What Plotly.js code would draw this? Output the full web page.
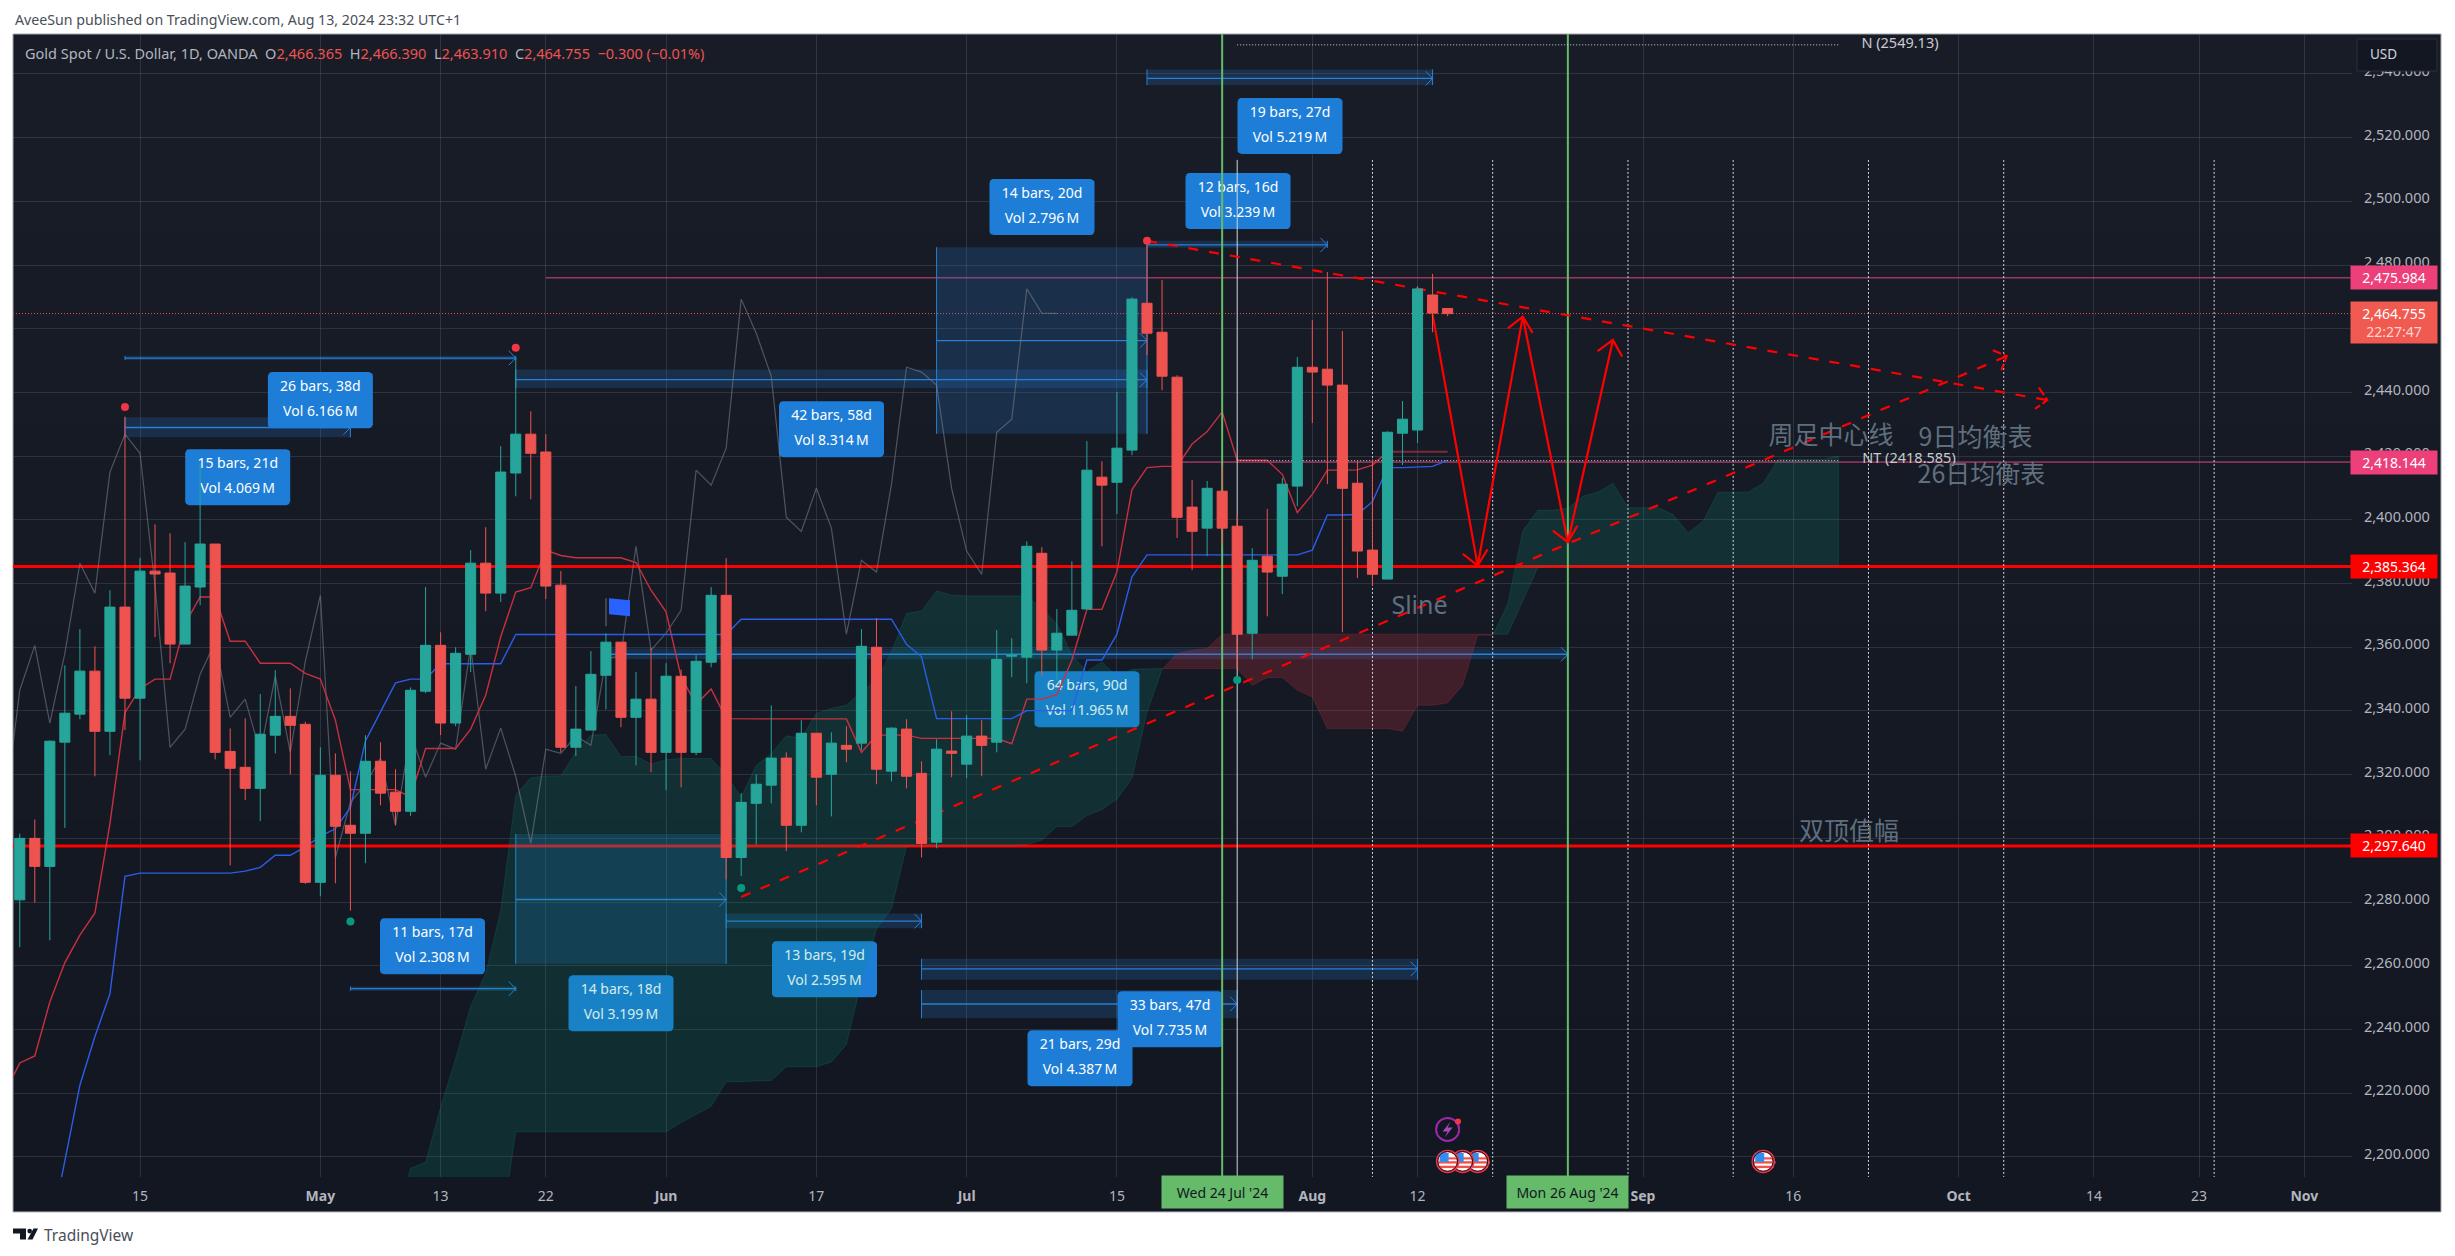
<!DOCTYPE html>
<html><head><meta charset="utf-8">
<script src="https://cdn.plot.ly/plotly-3.0.0.min.js"></script>
<style>html,body{margin:0;padding:0;background:#fff}#chart{width:2455px;height:1256px}</style>
</head><body><div id="chart"></div>
<script>
// ---------- DATA ----------
const barIndex=[-8,-7,-6,-5,-4,-3,-2,-1,0,1,2,3,4,5,6,7,8,9,10,11,12,13,14,15,16,17,18,19,20,21,22,23,24,25,26,27,28,29,30,31,32,33,34,35,36,37,38,39,40,41,42,43,44,45,46,47,48,49,50,51,52,53,54,55,56,57,58,59,60,61,62,63,64,65,66,67,68,69,70,71,72,73,74,75,76,77,78,79,80,81,82,83,84,85,86,87];
const openP=[2280.7,2300.0,2291.2,2330.2,2339.0,2352.5,2333.6,2372.6,2344.0,2383.9,2383.3,2361.0,2378.9,2392.4,2327.3,2322.3,2315.7,2332.4,2338.3,2335.8,2286.2,2319.8,2304.1,2301.6,2324.2,2314.5,2308.5,2346.2,2360.6,2336.2,2357.8,2386.4,2377.0,2414.7,2426.9,2421.3,2379.5,2328.6,2334.0,2351.2,2361.6,2338.0,2343.7,2327.0,2350.9,2327.0,2355.3,2376.3,2294.0,2311.0,2316.7,2325.2,2304.1,2333.0,2320.1,2329.2,2329.9,2360.0,2321.1,2334.3,2320.4,2298.8,2327.4,2323.3,2332.1,2330.2,2357.2,2356.9,2389.5,2359.1,2363.8,2372.0,2413.4,2411.8,2421.9,2468.0,2458.9,2444.8,2404.0,2397.4,2409.0,2398.0,2364.4,2388.6,2382.3,2410.6,2447.9,2447.3,2442.3,2411.5,2390.5,2381.4,2427.2,2428.2,2470.6,2466.365];
const highP=[2301.5,2305.9,2330.8,2354.3,2365.7,2360.3,2377.9,2432.4,2388.0,2398.6,2395.8,2393.0,2417.7,2392.4,2334.5,2337.7,2345.3,2352.8,2347.1,2336.6,2328.6,2326.7,2321.0,2332.4,2330.2,2321.7,2347.4,2378.9,2364.7,2360.0,2390.5,2397.7,2423.1,2451.0,2434.1,2426.9,2383.9,2347.8,2358.8,2364.4,2361.6,2352.2,2359.7,2355.0,2353.0,2357.5,2378.9,2388.0,2314.2,2320.1,2341.8,2327.0,2337.1,2333.0,2333.3,2335.2,2365.7,2369.1,2334.9,2337.4,2324.2,2331.1,2339.9,2338.7,2337.1,2365.4,2362.8,2393.3,2391.4,2372.0,2387.0,2424.7,2418.4,2440.1,2469.9,2486.3,2475.3,2445.4,2412.5,2412.2,2417.0,2401.5,2391.1,2403.4,2413.1,2451.1,2462.7,2477.8,2459.3,2418.4,2419.0,2427.8,2437.3,2473.4,2477.2,2466.39];
const lowP=[2265.8,2279.8,2268.0,2303.3,2337.4,2319.5,2326.1,2334.0,2324.5,2363.2,2355.0,2361.0,2373.2,2324.8,2291.5,2312.0,2305.4,2326.7,2320.1,2285.7,2281.8,2285.9,2277.3,2292.2,2310.4,2304.1,2307.0,2345.6,2332.4,2335.2,2352.2,2371.3,2374.2,2407.4,2406.5,2375.1,2327.0,2325.8,2334.0,2340.5,2334.9,2322.9,2320.8,2315.1,2316.0,2326.1,2353.7,2287.1,2288.1,2298.1,2311.0,2296.0,2301.9,2310.4,2306.9,2323.9,2327.7,2317.0,2317.9,2315.7,2294.0,2296.9,2319.2,2318.9,2319.5,2327.0,2350.6,2348.7,2351.2,2349.6,2363.8,2372.0,2391.7,2401.8,2420.3,2451.7,2440.7,2394.3,2384.2,2388.6,2392.0,2353.3,2356.2,2369.7,2376.7,2404.3,2430.4,2411.2,2364.7,2381.7,2379.2,2381.4,2417.2,2424.1,2458.9,2463.91];
const closeP=[2300.0,2291.2,2330.5,2339.3,2352.5,2333.6,2372.6,2344.0,2383.9,2383.0,2361.0,2379.2,2392.4,2327.0,2322.0,2315.7,2332.7,2338.3,2335.5,2286.2,2319.8,2303.8,2301.6,2324.2,2314.2,2308.5,2346.5,2360.6,2336.2,2358.1,2386.4,2377.0,2415.0,2426.9,2420.9,2379.2,2328.6,2334.3,2351.5,2361.6,2338.0,2343.7,2327.0,2350.9,2327.0,2355.6,2376.3,2294.0,2311.3,2317.0,2325.2,2304.1,2333.0,2319.2,2329.9,2328.0,2360.3,2321.7,2334.6,2319.5,2298.4,2328.0,2326.7,2332.1,2329.2,2356.2,2357.5,2391.7,2359.1,2364.4,2371.6,2415.6,2410.9,2422.5,2469.3,2458.6,2445.1,2400.8,2396.4,2409.9,2397.4,2364.1,2387.3,2383.6,2411.2,2447.9,2446.4,2442.3,2409.9,2390.2,2382.9,2427.5,2431.6,2472.5,2464.9,2464.755];

const conversionIndex=[-9,-8,-7,-6,-5,-4,-3,-2,-1,0,1,2,3,4,5,6,7,8,9,10,11,12,13,14,15,16,17,18,19,20,21,22,23,24,25,26,27,28,29,30,31,32,33,34,35,36,37,38,39,40,41,42,43,44,45,46,47,48,49,50,51,52,53,54,55,56,57,58,59,60,61,62,63,64,65,66,67,68,69,70,71,72,73,74,75,76,77,78,79,80,81,82,83];
const conversionLine=[2220,2229.5,2231.7,2248.6,2261,2269.6,2276.6,2304.6,2339.5,2347,2350,2350,2367.4,2375.8,2375.8,2361.9,2361.9,2355,2355,2355,2351.8,2350,2337.1,2315.3,2315.3,2315.3,2315.3,2313,2328.2,2328.2,2328.2,2334.3,2344.9,2363.3,2377.3,2378.7,2390.5,2388.8,2388.1,2388.1,2388.1,2388.1,2386.6,2377.9,2371.1,2350.7,2342.1,2346.9,2337.6,2337.5,2337.5,2337.5,2337.5,2337.5,2337.5,2337.5,2337.5,2327,2332.4,2332.4,2332.4,2331.4,2331.4,2331.4,2331.4,2331.4,2331.4,2329.7,2343.7,2343.7,2345.1,2355.9,2371.9,2371.9,2383.7,2409.5,2416.4,2416.8,2416.8,2423.8,2427.7,2433.9,2418.7,2418.7,2418.7,2414.3,2402.3,2408,2415.6,2415.6,2415.7,2417.2,2421.4];
const conversionTailIndex=[83,84,85,86,87];
const conversionTail=[2421.4,2421.4,2421.4,2421.4,2421.4];

const baseIndex=[-6,-5,-4,-3,-2,-1,0,1,2,3,4,5,6,7,8,9,10,11,12,13,14,15,16,17,18,19,20,21,22,23,24,25,26,27,28,29,30,31,32,33,34,35,36,37,38,39,40,41,42,43,44,45,46,47,48,49,50,51,52,53,54,55,56,57,58,59,60,61,62,63,64,65,66,67,68,69,70,71,72,73,74,75,76,77,78,79,80,81,82,83,84,85,86,87];
const baseLine=[2175,2199,2222.5,2237.8,2251.2,2288.1,2289.1,2289.1,2289.1,2289.1,2289.1,2289.1,2289.1,2289.7,2290.9,2294.7,2294.7,2297.3,2300.7,2303,2309.7,2330.6,2339.7,2348.8,2350,2350,2354.8,2354.8,2354.8,2354.8,2354.8,2364,2364,2364,2364,2364,2364,2364,2364,2364,2364,2364,2364,2364,2364,2364,2368.8,2368.8,2368.8,2368.8,2368.8,2368.8,2368.8,2368.8,2368.8,2368.8,2368.8,2360.9,2357,2337.6,2337.6,2337.6,2337.6,2337.6,2337.6,2340.1,2340.1,2340.1,2340.1,2356,2356,2364.1,2382.1,2389,2389,2389,2389,2389,2389,2389,2389,2389,2389,2389,2390.5,2401.5,2401.5,2401.7,2405.7,2416.4,2416.4,2416.7,2416.8,2418.7];

const laggingIndex=[-9,-8,-7,-6,-5,-4,-3,-2,-1,0,1,2,3,4,5,6,7,8,9,10,11,12,13,14,15,16,17,18,19,20,21,22,23,24,25,26,27,28,29,30,31,32,33,34,35,36,37,38,39,40,41,42,43,44,45,46,47,48,49,50,51,52,53,54,55,56,57,58,59,60,61];
const laggingSpan=[2308.5,2346.5,2360.6,2336.2,2358.1,2386.4,2377.0,2415.0,2426.9,2420.9,2379.2,2328.6,2334.3,2351.5,2361.6,2338.0,2343.7,2327.0,2350.9,2327.0,2355.6,2376.3,2294.0,2311.3,2317.0,2325.2,2304.1,2333.0,2319.2,2329.9,2328.0,2360.3,2321.7,2334.6,2319.5,2298.4,2328.0,2326.7,2332.1,2329.2,2356.2,2357.5,2391.7,2359.1,2364.4,2371.6,2415.6,2410.9,2422.5,2469.3,2458.6,2445.1,2400.8,2396.4,2409.9,2397.4,2364.1,2387.3,2383.6,2411.2,2447.9,2446.4,2442.3,2409.9,2390.2,2382.9,2427.5,2431.6,2472.5,2464.9,2464.8];

const spanIndex=[17,18,19,20,21,22,23,24,25,26,27,28,29,30,31,32,33,34,35,36,37,38,39,40,41,42,43,44,45,46,47,48,49,50,51,52,53,54,55,56,57,58,59,60,61,62,63,64,65,66,67,68,69,70,71,72,73,74,75,76,77,78,79,80,81,82,83,84,85,86,87,88,89,90,91,92,93,94,95,96,97,98,99,100,101,102,103,104,105,106,107,108,109,110,111,112,113];
const leadA=[2180,2196.4,2198.3,2215.5,2230.8,2247.3,2257.5,2277.3,2313.6,2319,2319.6,2319.6,2327.1,2332.4,2332.6,2325.6,2325.8,2323.3,2324.7,2325.1,2325.1,2325.1,2319.8,2313,2322.9,2326.6,2332.2,2331.4,2339.2,2340.8,2341.8,2346,2349.6,2358.6,2370.6,2371.4,2377.7,2376.4,2376.1,2376.1,2376.1,2376.1,2376.1,2372.2,2367.4,2357.5,2352.3,2355.4,2350.7,2353.1,2353.3,2353.3,2353.3,2353.3,2353.3,2353.3,2353.3,2348.1,2350.5,2350.5,2346.5,2344.4,2334.5,2334.5,2334.5,2334.5,2334.5,2333.6,2341.8,2341.8,2342.5,2348.1,2363.8,2363.8,2373.5,2396.5,2403,2403,2403.6,2407.4,2408.7,2411.5,2403.8,2403.8,2403.8,2401.7,2395.9,2399.5,2408.7,2408.7,2408.7,2411.5,2419,2419,2419,2419,2420.1];
const leadB=[2170,2170,2170,2170,2170,2170,2170,2176,2207.9,2207.9,2207.9,2207.9,2207.9,2207.9,2207.9,2207.9,2207.9,2207.9,2207.9,2210.8,2213.4,2215.9,2223.5,2223.8,2223.8,2224,2228.3,2228.3,2228.3,2229.8,2235.3,2255,2271.5,2277.9,2297.6,2297.6,2297.6,2297.6,2297.6,2297.6,2297.6,2297.6,2298,2299.5,2303.7,2303.7,2307.2,2309.1,2312.3,2318.9,2339.6,2353,2358,2359,2359.6,2364.1,2364.1,2364.1,2364.1,2364.1,2364.1,2364.1,2364.1,2364.1,2364.1,2364.1,2364.1,2364.1,2364.1,2364.1,2364.1,2364.1,2364.1,2364.1,2364.1,2374.7,2385,2385.4,2385.4,2385.4,2385.4,2385.4,2385.4,2385.4,2385.4,2385.4,2385.4,2385.4,2385.4,2385.4,2385.4,2385.4,2385.4,2385.4,2385.4,2385.4,2385.4];

const tickIndex=[0,12,20,27,35,45,55,65,78,85,100,110,121,130,137,144];
const tickLabels=['15','<b>May</b>','13','22','<b>Jun</b>','17','<b>Jul</b>','15','<b>Aug</b>','12','<b>Sep</b>','16','<b>Oct</b>','14','23','<b>Nov</b>'];

// range tools: start bar, end bar, band low, band high, arrow price, two text lines, label centre (px)
const toolStart=[-1,-1,14,25,25,53,67,67,31,39,52,52];
const toolEnd=[14,25,25,39,67,67,79,86,95,52,85,73];
const toolLow=[2425.9,2450.2,2252.1,2260.6,2441.4,2427,2485.4,2536.5,2356.2,2271.8,2255.6,2243.5];
const toolHigh=[2432.2,2451.5,2253.5,2301.4,2447.2,2485.6,2487.6,2541.4,2359.6,2276.4,2262.2,2252.4];
const toolLine=[2429,2450.8,2252.8,2280.8,2444,2456.3,2486.3,2538.6,2357.8,2274,2259,2248];
const toolText1=['15 bars, 21d','26 bars, 38d','11 bars, 17d','14 bars, 18d','42 bars, 58d','14 bars, 20d','12 bars, 16d','19 bars, 27d','64 bars, 90d','13 bars, 19d','33 bars, 47d','21 bars, 29d'];
const toolText2=['Vol 4.069\u2009M','Vol 6.166\u2009M','Vol 2.308\u2009M','Vol 3.199\u2009M','Vol 8.314\u2009M','Vol 2.796\u2009M','Vol 3.239\u2009M','Vol 5.219\u2009M','Vol 11.965\u2009M','Vol 2.595\u2009M','Vol 7.735\u2009M','Vol 4.387\u2009M'];
const toolLabelX=[237.7,320.4,432.5,621,831.5,1042,1238,1290,1087,824.5,1170,1080];
const toolLabelY=[477,400,946,1003,429,207,201,126,699,969,1019,1058];

const pivotHighIndex=[-1,25,67], pivotHighPrice=[2435.4,2454,2487.6];
const pivotLowIndex=[14,40,73], pivotLowPrice=[2273.9,2284.4,2349.7];

const support=[2385.364,2297.64];
const pinkLevels=[2475.984,2418.144], pinkStart=[27,69];
const lastPrice=2464.755;
const dottedLevels=[2549.13,2418.585], dottedNames=['N (2549.13)','NT (2418.585)'];
const timeMarks=[72,95];
const cursorBar=73;
const fibBars=[82,90,99,106,115,124,138];
const fibTop=2513;
const trendFromI=[67,40], trendFromP=[2487.6,2281.6], trendToI=[126.9,124.2], trendToP=[2437.6,2451.4];
const pathI=[86,89,92,95,98], pathP=[2464.5,2385.6,2463.8,2393,2456.5];
const usEventBars=[87,88,89,108];
const notes=['周足中心线','9日均衡表','26日均衡表','双顶值幅','Sline'];
const noteX=[1831,1975.5,1981.5,1849,1419.5];
const noteY=[438,440,477,833,608];

// ---------- GEOMETRY ----------
const L=13,R=2352,T=34,B=1176.6,W=2455,H=1256;
const pxPerBar=15.03,pxOrigin=140,pxPerUnit=3.184,yRef=137.6;
const px2i=px=>(px-pxOrigin)/pxPerBar, i2px=i=>pxOrigin+pxPerBar*i;
const py2p=py=>2520-(py-yRef)/pxPerUnit, p2py=p=>yRef+(2520-p)*pxPerUnit;
const xr=[px2i(L),px2i(R)], yr=[py2p(B),py2p(T)];
const pxX=px=>(px-L)/(R-L), pxY=py=>(B-py)/(B-T);

const UI='"Noto Sans", sans-serif';
const tr=[];
const line=(x,y,color,width,dash,extra)=>tr.push(Object.assign({type:'scatter',mode:'lines',x,y,line:{color,width,dash:dash||'solid'},hoverinfo:'skip',showlegend:false},extra||{}));
const poly=(x,y,fill,edge)=>tr.push({type:'scatter',mode:'lines',x,y,fill:'toself',fillcolor:fill,line:{color:edge||'rgba(0,0,0,0)',width:edge?1:0},hoverinfo:'skip',showlegend:false});
const text=(x,y,t,color,size,family)=>tr.push({type:'scatter',mode:'text',x:[x],y:[y],text:[t],textposition:'middle center',textfont:{color,size,family:family||UI},hoverinfo:'skip',showlegend:false});
const dot=(x,y,size,color,lineSpec,symbol)=>tr.push({type:'scatter',mode:'markers',x:[x],y:[y],marker:{size,color,symbol:symbol||'circle',line:lineSpec||{width:0}},hoverinfo:'skip',showlegend:false});
function chev(toI,toP,fromI,fromP,len,ang){
  const a=Math.atan2(p2py(toP)-p2py(fromP),i2px(toI)-i2px(fromI));
  const pts=s=>[i2px(toI)-len*Math.cos(a+s*ang),p2py(toP)-len*Math.sin(a+s*ang)];
  const u=pts(1),v=pts(-1);
  return {x:[px2i(u[0]),toI,px2i(v[0])],y:[py2p(u[1]),toP,py2p(v[1])]};
}
function roundRect(cx,cy,w,h,r){
  const xs=[],ys=[];const c=[[cx+w/2-r,cy-h/2+r,-90],[cx+w/2-r,cy+h/2-r,0],[cx-w/2+r,cy+h/2-r,90],[cx-w/2+r,cy-h/2+r,180]];
  c.forEach(q=>{for(let k=0;k<=4;k++){const t=(q[2]+k*22.5)*Math.PI/180;xs.push(px2i(q[0]+r*Math.cos(t)));ys.push(py2p(q[1]+r*Math.sin(t)));}});
  xs.push(xs[0]);ys.push(ys[0]);return {x:xs,y:ys};
}

// level lines
support.forEach(p=>line(xr,[p,p],'#ff0000',3));
pinkLevels.forEach((p,k)=>line([pinkStart[k],xr[1]],[p,p],'#e0487a',1));
line(xr,[lastPrice,lastPrice],'#ef5350',1,'1px,2px');

// range tools
const toolBlue='#2b7fd4';
toolText1.forEach((_,k)=>{
  const a=toolStart[k],b=toolEnd[k];
  poly([a,b,b,a,a],[toolLow[k],toolLow[k],toolHigh[k],toolHigh[k],toolLow[k]],'rgba(33,130,220,0.2)');
  line([a,b],[toolLine[k],toolLine[k]],toolBlue,1.3);
  line([a,a],[toolLow[k],toolHigh[k]],toolBlue,1);
  line([b,b],[toolLow[k],toolHigh[k]],toolBlue,1);
  const ch=chev(b,toolLine[k],a,toolLine[k],10,0.8);line(ch.x,ch.y,toolBlue,1);
});
toolText1.forEach((t,k)=>{
  const rr=roundRect(toolLabelX[k],toolLabelY[k],105,56,4);
  poly(rr.x,rr.y,'#1e7dd6');
  const lx=px2i(toolLabelX[k]);
  text(lx,py2p(toolLabelY[k]-12.5),t,'#ffffff',14);
  text(lx,py2p(toolLabelY[k]+12.5),toolText2[k],'#ffffff',14);
});

// cloud
(function(){
  let seg=null;const flush=()=>{if(!seg)return;const up=seg.sign>0;
    poly(seg.x.concat(seg.xb.slice().reverse()),seg.a.concat(seg.b.slice().reverse()),up?'rgba(8,153,129,0.18)':'rgba(242,54,69,0.2)',up?'rgba(8,153,129,0.2)':'rgba(242,54,69,0.2)');seg=null;};
  for(let k=0;k<spanIndex.length;k++){
    const s=leadA[k]>=leadB[k]?1:-1;
    if(seg&&seg.sign!==s){
      const d0=leadA[k-1]-leadB[k-1],d1=leadA[k]-leadB[k],f=d0/(d0-d1);
      const cx=spanIndex[k-1]+f,cy=leadA[k-1]+f*(leadA[k]-leadA[k-1]);
      seg.x.push(cx);seg.xb.push(cx);seg.a.push(cy);seg.b.push(cy);flush();
      seg={sign:s,x:[cx],xb:[cx],a:[cy],b:[cy]};
    }
    if(!seg)seg={sign:s,x:[],xb:[],a:[],b:[]};
    seg.x.push(spanIndex[k]);seg.xb.push(spanIndex[k]);seg.a.push(leadA[k]);seg.b.push(leadB[k]);
  }
  flush();
})();

// indicator lines
line(laggingIndex,laggingSpan,'rgba(120,123,134,0.6)',1.2);
line(conversionIndex,conversionLine,'#c9303f',1.4);
line(conversionTailIndex,conversionTail,'#7c2a38',2);
line(baseIndex,baseLine,'#2a5ee8',1.4);

// vertical markers
timeMarks.forEach(i=>line([i,i],yr,'#66bb6a',2));
line([cursorBar,cursorBar],[fibTop,yr[0]],'#d1d4dc',1);
fibBars.forEach(i=>line([i,i],[fibTop,yr[0]],'#d1d4dc',1,'2px,2px'));
dottedLevels.forEach(p=>line([73,113],[p,p],'#d1d4dc',1,'1px,2px'));
text(px2i(1900),dottedLevels[0],dottedNames[0],'#c8cad0',14.5);
text(px2i(1909),py2p(459),dottedNames[1],'#c8cad0',14.5);

// trend lines
trendFromI.forEach((a,k)=>{
  line([a,trendToI[k]],[trendFromP[k],trendToP[k]],'#ff0000',2.2,'10px,11px');
  const ch=chev(trendToI[k],trendToP[k],a,trendFromP[k],15,0.8);line(ch.x,ch.y,'#ff0000',2.2,'9px,3px');
});
for(let k=0;k<pathI.length-1;k++){
  line([pathI[k],pathI[k+1]],[pathP[k],pathP[k+1]],'#ff0000',2.2);
  const ch=chev(pathI[k+1],pathP[k+1],pathI[k],pathP[k],19,0.72);line(ch.x,ch.y,'#ff0000',2.2);
}

// pivots
pivotHighIndex.forEach((i,k)=>dot(i,pivotHighPrice[k],8,'#f23645'));
pivotLowIndex.forEach((i,k)=>dot(i,pivotLowPrice[k],8,'#089981'));

// notes
notes.forEach((t,k)=>text(px2i(noteX[k]),py2p(noteY[k]),t,'#5f6f7e',25,k<4?'"Noto Sans CJK SC"':UI));

// flag drawing
poly([609,630,630,609,609].map(px2i),[598,600,616,614,598].map(py2p),'#2962ff');
line([606,606].map(px2i),[598,626].map(py2p),'#434651',2);

// events: right-most first so the left one ends up on top
const evY=1161;
usEventBars.slice().reverse().forEach(i=>{
  const cx=i2px(i);
  dot(i,py2p(evY),21,'#ffffff',{color:'#f23645',width:2.5});
  dot(px2i(cx+1),py2p(evY+1),16,'#ffffff',{color:'#ef5350',width:2.4},'line-ew');
  dot(px2i(cx+1),py2p(evY+5.5),13,'#ffffff',{color:'#ef5350',width:2.4},'line-ew');
  dot(px2i(cx+4),py2p(evY-3),8,'#ffffff',{color:'#ef5350',width:2.2},'line-ew');
  dot(px2i(cx-3.5),py2p(evY-4),9,'#2f8ef0',{width:0},'square');
  dot(i,py2p(evY),20,'rgba(0,0,0,0)',{color:'#131722',width:1});
});
dot(87,py2p(1129),23,'rgba(0,0,0,0)',{color:'#9c27b0',width:2});
poly([3,-5,0,-3,5,0,3].map(d=>px2i(i2px(87)+d)),[-8,2,2,8,-2,-2,-8].map(d=>py2p(1129+d)),'#ab47bc');
dot(px2i(1458),py2p(1121),6,'#f23645');

// candles (overlay subplot so they sit above the indicator lines)
tr.push({type:'candlestick',x:barIndex,open:openP,high:highP,low:lowP,close:closeP,xaxis:'x2',yaxis:'y2',whiskerwidth:0,
  increasing:{line:{color:'#26a69a',width:1},fillcolor:'#26a69a'},decreasing:{line:{color:'#ef5350',width:1},fillcolor:'#ef5350'},hoverinfo:'skip',showlegend:false});

// ---------- LAYOUT ----------
const shapes=[];
const band=12,PB=1211.5;
for(let k=0;k<band;k++){const f=k/(band-1);const c=[24-5*f,28-5*f,39-5*f].map(Math.round);
  shapes.push({type:'rect',xref:'paper',yref:'paper',layer:'below',x0:pxX(L),x1:pxX(2441),y0:pxY(T+(PB-T)*k/band),y1:pxY(Math.min(PB,T+(PB-T)*(k+1)/band+2)),fillcolor:`rgb(${c})`,line:{width:0}});}
shapes.push({type:'rect',xref:'paper',yref:'paper',layer:'below',x0:pxX(L),x1:pxX(2441),y0:pxY(T),y1:pxY(PB),line:{color:'#a3a6af',width:1},fillcolor:'rgba(0,0,0,0)'});
// USD box
shapes.push({type:'rect',xref:'paper',yref:'paper',layer:'above',x0:pxX(2357),x1:pxX(2437),y0:pxY(39),y1:pxY(71),fillcolor:'#131722',line:{color:'#2a2e39',width:1}});
// logo
const pth=pts=>'M'+pts.map(p=>pxX(p[0])+','+pxY(p[1])).join('L')+'Z';
const logoShape=(pts)=>shapes.push({type:'path',xref:'paper',yref:'paper',layer:'above',path:pth(pts),fillcolor:'#131722',line:{width:0}});
logoShape([[13,1228],[26,1228],[26,1239],[20,1239],[20,1233],[13,1233]]);
logoShape([[38,1228],[32.5,1239],[27.5,1239],[33.5,1228]]);
shapes.push({type:'circle',xref:'paper',yref:'paper',layer:'above',x0:pxX(27.3),x1:pxX(32),y0:pxY(1233),y1:pxY(1228.3),fillcolor:'#131722',line:{width:0}});

const ann=[];
const note=(px,py,t,size,color,anchor)=>ann.push({xref:'paper',yref:'paper',x:pxX(px),y:pxY(py),text:t,showarrow:false,xanchor:anchor||'left',yanchor:'middle',font:{size,color,family:UI}});
note(13,20,'AveeSun published on TradingView.com, Aug 13, 2024 23:32 UTC+1',14.2,'#4a4e59');
const g='<span style="color:#b2b5be">',r='<span style="color:#ef5350">',e='</span>',sp='\u00a0\u00a0';
note(23,53,`${g}Gold Spot / U.S. Dollar, 1D, OANDA${sp}O${e}${r}2,466.365${e}${sp}${g}H${e}${r}2,466.390${e}${sp}${g}L${e}${r}2,463.910${e}${sp}${g}C${e}${r}2,464.755${e}${sp}${r}−0.300 (−0.01%)${e}`,14.5,'#b2b5be');
note(2368,54,'USD',13.5,'#d1d4dc');
note(42,1235,'TradingView',15.5,'#4a4e59');
const badge=(p,t,bg,h,py)=>ann.push({xref:'paper',yref:py?'paper':'y',x:pxX(2394),y:py?pxY(py):p,text:t,showarrow:false,xanchor:'center',yanchor:'middle',width:84,height:h,bgcolor:bg,font:{size:14,color:'#ffffff',family:UI},align:'center',valign:'middle'});
badge(2475.984,'2,475.984','#ed3f7a',21);
badge(0,'2,464.755<br><span style="color:#ffd5d3">22:27:47</span>','#f05a50',39,322.5);
badge(2418.144,'2,418.144','#ed3f7a',21);
badge(2385.364,'2,385.364','#ff0000',21);
badge(2297.64,'2,297.640','#ff0000',21);
const timeBadge=(i,t)=>ann.push({xref:'x',yref:'paper',x:i,y:pxY(1191.5),text:t,showarrow:false,xanchor:'center',yanchor:'middle',width:119,height:30,bgcolor:'#66bb6a',font:{size:14,color:'#131722',family:UI}});
timeBadge(72,"Wed 24 Jul '24");
timeBadge(95,"Mon 26 Aug '24");

const grid='rgba(120,123,134,0.25)';
const layout={width:W,height:H,autosize:false,margin:{l:L,r:W-R,t:T,b:H-B,pad:0},paper_bgcolor:'#ffffff',plot_bgcolor:'rgba(0,0,0,0)',showlegend:false,hovermode:false,boxgap:0.33,boxgroupgap:0,shapes,annotations:ann,
 xaxis:{type:'linear',range:xr,tickmode:'array',tickvals:tickIndex,ticktext:tickLabels,showgrid:true,gridcolor:grid,gridwidth:1,zeroline:false,showline:false,ticks:'outside',ticklen:6,tickcolor:'rgba(0,0,0,0)',tickfont:{size:14,color:'#b2b5be',family:UI},fixedrange:true,rangeslider:{visible:false}},
 yaxis:{type:'linear',range:yr,side:'right',tickmode:'linear',tick0:2200,dtick:20,tickformat:',.3f',ticklabelshift:-3,showgrid:true,gridcolor:grid,gridwidth:1,zeroline:false,showline:false,ticks:'outside',ticklen:8,tickcolor:'rgba(0,0,0,0)',tickfont:{size:14.5,color:'#b2b5be',family:UI},fixedrange:true},
 xaxis2:{type:'linear',range:xr,overlaying:'x',visible:false,fixedrange:true,rangeslider:{visible:false}},
 yaxis2:{type:'linear',range:yr,overlaying:'y',side:'right',visible:false,fixedrange:true}};
Plotly.newPlot('chart',tr,layout,{displayModeBar:false,responsive:false});
</script></body></html>
